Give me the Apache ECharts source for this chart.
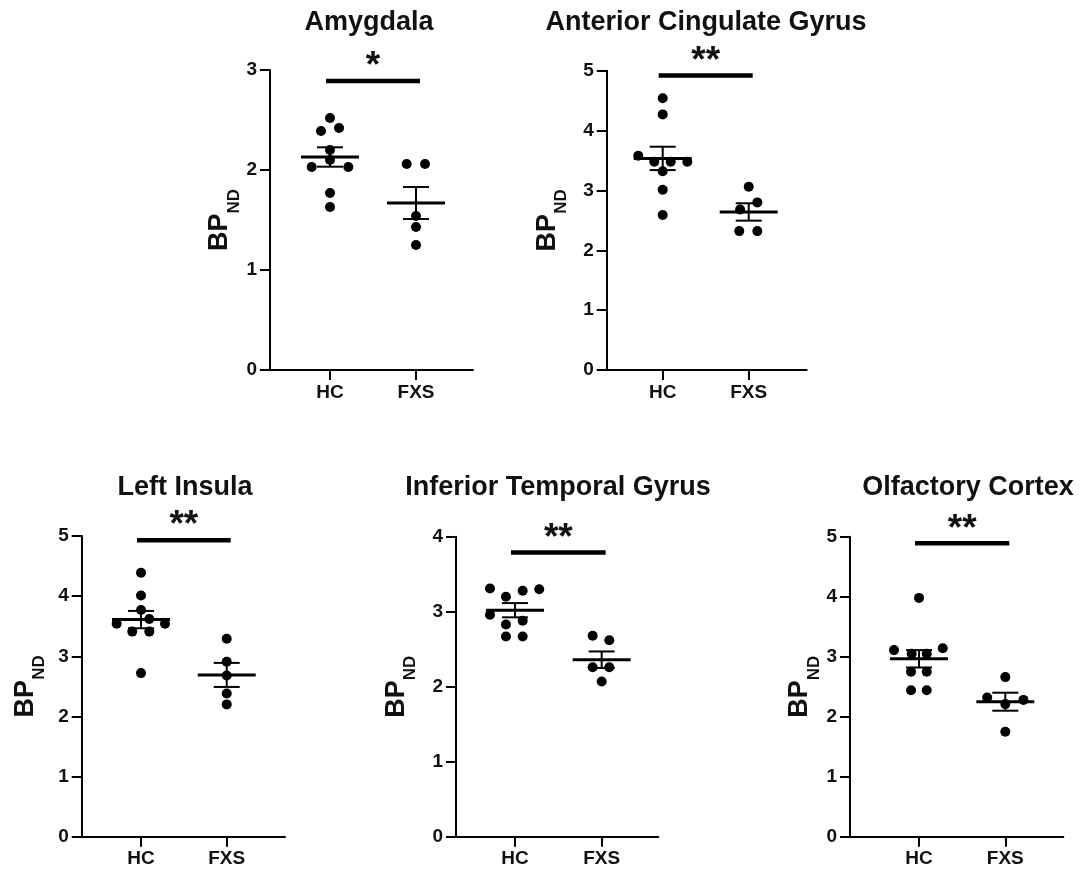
<!DOCTYPE html>
<html>
<head>
<meta charset="utf-8">
<script src="https://cdn.jsdelivr.net/npm/echarts@6/dist/echarts.min.js"></script>
<style>
  html, body { margin: 0; padding: 0; background: #fff; }
  #chart { width: 1081px; height: 878px; }
</style>
</head>
<body>
<div id="chart"></div>
<script>
// ---------- data ----------
const groups = ['HC', 'FXS'];
const titles = ['Amygdala', 'Anterior Cingulate Gyrus', 'Left Insula', 'Inferior Temporal Gyrus', 'Olfactory Cortex'];
const yMaxes = [3, 5, 5, 4, 5];

// Amygdala
const amyHC   = [2.52, 2.39, 2.42, 2.20, 2.10, 2.03, 2.03, 1.77, 1.63];
const amyHCx  = [1.00, 0.895, 1.105, 1.00, 1.00, 0.787, 1.213, 1.00, 1.00];
const amyFXS  = [2.06, 2.06, 1.54, 1.43, 1.25];
const amyFXSx = [1.892, 2.105, 2.00, 2.00, 2.00];
const amyMean = [2.13, 1.67];
const amySEM  = [0.097, 0.16];

// Anterior Cingulate Gyrus
const acgHC   = [4.54, 4.27, 3.58, 3.48, 3.48, 3.48, 3.32, 3.01, 2.59];
const acgHCx  = [1.00, 1.00, 0.716, 0.902, 1.093, 1.286, 1.00, 1.00, 1.00];
const acgFXS  = [3.06, 2.80, 2.68, 2.32, 2.32];
const acgFXSx = [2.00, 2.10, 1.90, 1.89, 2.10];
const acgMean = [3.535, 2.64];
const acgSEM  = [0.195, 0.145];

// Left Insula
const insHC   = [4.39, 4.01, 3.77, 3.62, 3.54, 3.54, 3.41, 3.41, 2.72];
const insHCx  = [1.00, 1.00, 1.00, 1.097, 0.716, 1.28, 0.898, 1.097, 1.00];
const insFXS  = [3.29, 2.91, 2.68, 2.38, 2.20];
const insFXSx = [2.00, 2.00, 2.00, 2.00, 2.00];
const insMean = [3.61, 2.69];
const insSEM  = [0.144, 0.20];

// Inferior Temporal Gyrus
const itgHC   = [3.31, 3.20, 3.28, 3.30, 2.96, 2.83, 2.88, 2.67, 2.67];
const itgHCx  = [0.712, 0.896, 1.089, 1.28, 0.712, 0.896, 1.089, 0.896, 1.089];
const itgFXS  = [2.68, 2.62, 2.26, 2.26, 2.07];
const itgFXSx = [1.896, 2.088, 1.896, 2.088, 2.00];
const itgMean = [3.02, 2.36];
const itgSEM  = [0.095, 0.11];

// Olfactory Cortex
const olfHC   = [3.98, 3.11, 3.14, 3.05, 3.05, 2.75, 2.75, 2.44, 2.44];
const olfHCx  = [1.00, 0.71, 1.275, 0.915, 1.089, 0.907, 1.089, 0.907, 1.089];
const olfFXS  = [2.66, 2.32, 2.28, 2.21, 1.75];
const olfFXSx = [2.00, 1.79, 2.21, 2.00, 2.00];
const olfMean = [2.965, 2.25];
const olfSEM  = [0.145, 0.15];

// significance brackets
const sigLevel = [2.89, 4.92, 4.93, 3.79, 4.89];
const sigText  = ['*', '**', '**', '**', '**'];

// ---------- layout (pixels) ----------
const layouts = [
  { left: 270,   top: 70,    width: 203, height: 300, xmin: 0.302, xmax: 2.663, nameGap: 36, tx: 369, ty: 9 },
  { left: 606.7, top: 70.7,  width: 200, height: 299.3, xmin: 0.349, xmax: 2.674, nameGap: 46, tx: 706, ty: 9 },
  { left: 81.7,  top: 536,   width: 203.3, height: 300.7, xmin: 0.308, xmax: 2.68, nameGap: 43, tx: 185, ty: 474 },
  { left: 456,   top: 536.7, width: 202.3, height: 300, xmin: 0.32, xmax: 2.653, nameGap: 46, tx: 558, ty: 474 },
  { left: 850,   top: 536.7, width: 213.3, height: 300, xmin: 0.2, xmax: 2.672, nameGap: 34, tx: 968, ty: 474 }
];

const panels = [
  [amyHC, amyHCx, amyFXS, amyFXSx, amyMean, amySEM],
  [acgHC, acgHCx, acgFXS, acgFXSx, acgMean, acgSEM],
  [insHC, insHCx, insFXS, insFXSx, insMean, insSEM],
  [itgHC, itgHCx, itgFXS, itgFXSx, itgMean, itgSEM],
  [olfHC, olfHCx, olfFXS, olfFXSx, olfMean, olfSEM]
];

const FONT = 'Liberation Sans, Arial, sans-serif';
const INK = '#000';

const option = {
  backgroundColor: '#fff',
  animation: false,
  title: [], grid: [], xAxis: [], yAxis: [], series: []
};

panels.forEach((p, i) => {
  const L = layouts[i];
  option.title.push({
    text: titles[i], left: L.tx, top: L.ty, textAlign: 'center', padding: 0,
    textStyle: { fontFamily: FONT, fontSize: 27, fontWeight: 'bold', color: '#111' }
  });
  option.grid.push({ left: L.left, top: L.top, width: L.width, height: L.height, containLabel: false });
  option.xAxis.push({
    type: 'value', gridIndex: i, min: L.xmin, max: L.xmax,
    splitLine: { show: false },
    axisLine: { show: true, onZero: false, lineStyle: { color: INK, width: 2 } },
    axisTick: { show: true, customValues: [1, 2], length: 10, lineStyle: { color: INK, width: 2 } },
    axisLabel: {
      show: true, customValues: [1, 2], margin: 13,
      formatter: v => groups[Math.round(v) - 1] || '',
      fontFamily: FONT, fontSize: 19, fontWeight: 'bold', color: '#111'
    }
  });
  option.yAxis.push({
    type: 'value', gridIndex: i, min: 0, max: yMaxes[i], interval: 1,
    splitLine: { show: false },
    axisLine: { show: true, lineStyle: { color: INK, width: 2 } },
    axisTick: { show: true, length: 10, lineStyle: { color: INK, width: 2 } },
    axisLabel: { margin: 13, fontFamily: FONT, fontSize: 19, fontWeight: 'bold', color: '#111' },
    name: '{a|BP}{b|ND}', nameLocation: 'middle', nameGap: L.nameGap,
    nameTextStyle: {
      rich: {
        a: { fontFamily: FONT, fontSize: 27, fontWeight: 'bold', color: '#111', verticalAlign: 'top', lineHeight: 27 },
        b: { fontFamily: FONT, fontSize: 17, fontWeight: 'bold', color: '#111', verticalAlign: 'top', lineHeight: 17, padding: [19, 0, 0, 0] }
      }
    }
  });

  const [hc, hcx, fxs, fxsx, mean, sem] = p;
  const pts = hc.map((v, k) => [hcx[k], v]).concat(fxs.map((v, k) => [fxsx[k], v]));
  option.series.push({
    type: 'scatter', xAxisIndex: i, yAxisIndex: i, data: pts,
    symbol: 'circle', symbolSize: 10, itemStyle: { color: INK, opacity: 1 }, z: 2
  });
  option.series.push({
    type: 'custom', xAxisIndex: i, yAxisIndex: i, z: 3,
    data: [[1, mean[0], sem[0]], [2, mean[1], sem[1]]],
    renderItem: (params, api) => {
      const x = api.value(0), m = api.value(1), s = api.value(2);
      const c = api.coord([x, m]);
      const up = api.coord([x, m + s]);
      const lo = api.coord([x, m - s]);
      const st = w => ({ stroke: INK, lineWidth: w });
      return {
        type: 'group', children: [
          { type: 'line', shape: { x1: c[0] - 29, y1: c[1], x2: c[0] + 29, y2: c[1] }, style: st(3) },
          { type: 'line', shape: { x1: c[0], y1: up[1], x2: c[0], y2: lo[1] }, style: st(2) },
          { type: 'line', shape: { x1: c[0] - 13, y1: up[1], x2: c[0] + 13, y2: up[1] }, style: st(2) },
          { type: 'line', shape: { x1: c[0] - 13, y1: lo[1], x2: c[0] + 13, y2: lo[1] }, style: st(2) }
        ]
      };
    }
  });
  option.series.push({
    type: 'custom', xAxisIndex: i, yAxisIndex: i, z: 4, clip: false,
    data: [[1, 2, sigLevel[i]]],
    renderItem: (params, api) => {
      const a = api.coord([api.value(0), api.value(2)]);
      const b = api.coord([api.value(1), api.value(2)]);
      return {
        type: 'group', children: [
          { type: 'line', shape: { x1: a[0] - 4, y1: a[1], x2: b[0] + 4, y2: b[1] }, style: { stroke: INK, lineWidth: 4.5 } },
          { type: 'text', x: (a[0] + b[0]) / 2, y: a[1] - 14,
            style: { text: sigText[i], fontFamily: FONT, fontSize: 37, fontWeight: 'bold', fill: '#111', align: 'center', verticalAlign: 'middle' } }
        ]
      };
    }
  });
});

const chart = echarts.init(document.getElementById('chart'), null, { renderer: 'canvas' });
chart.setOption(option);
</script>
</body>
</html>
